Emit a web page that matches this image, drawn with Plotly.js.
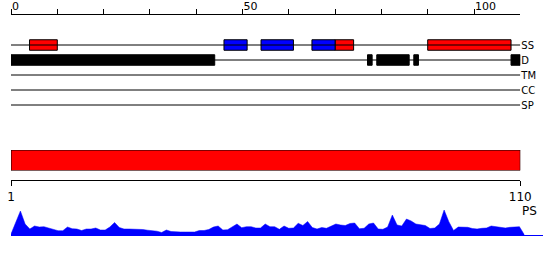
<!DOCTYPE html>
<html>
<head>
<meta charset="utf-8">
<script src="https://cdn.plot.ly/plotly-3.0.1.min.js"></script>
<style>html,body{margin:0;padding:0;background:#fff;}#chart{width:550px;height:260px;}</style>
</head>
<body>
<div id="chart"></div>
<script>
// ---- data ----
const tracks = ['SS', 'D', 'TM', 'CC', 'SP'];
const seqLength = 110;
const topTickVals = [0, 10, 20, 30, 40, 50, 60, 70, 80, 90, 100];
const topTickText = ['0', '', '', '', '', '50', '', '', '', '', '100'];
const bottomTickVals = [1, 110];
const bottomTickText = ['1', '110'];

const helixStart = [4, 70, 90];
const helixEnd = [10, 74, 108];
const strandStart = [46, 54, 65];
const strandEnd = [51, 61, 70];
const disorderStart = [0, 77, 79, 87, 108];
const disorderEnd = [44, 78, 86, 88, 110];

const domainStart = [1];
const domainEnd = [110];

const psValues = [
  1, 12, 24, 11, 6, 9, 8, 8.3, 7, 5.5,
  4.3, 4.3, 8, 6.3, 6, 4.5, 6, 6, 7, 5,
  5, 8, 12.5, 7.5, 6, 6, 6, 6, 5.5, 4.8,
  4.5, 3.8, 2.5, 5, 3.5, 3, 3, 3, 3, 3,
  4.5, 4.5, 5.5, 8, 9, 5, 5.3, 8, 11, 7.3,
  8.3, 8.3, 7, 7, 11, 8.3, 8.3, 5.7, 9, 6.7,
  7, 11.7, 9.5, 13.5, 7.5, 6, 7.5, 6.7, 9, 11,
  10, 9.5, 11.5, 12, 6.3, 6.7, 11, 12, 6, 5.7,
  8, 20, 10, 9, 16, 14, 11, 10.5, 9.5, 6.5,
  7, 11, 25, 13.3, 4.5, 8, 8, 7.7, 6.5, 6,
  6.7, 7, 9, 8.5, 7.5, 7, 7.7, 7.7, 8.3, 0.5
];

// ---- build traces ----
const H = 260, W = 550;
const py = px => 1 - px / H;
const FONT = 'DejaVu Sans, sans-serif';

const traces = [];
tracks.forEach(t => {
  traces.push({type: 'scatter', mode: 'lines', x: [0, seqLength], y: [t, t],
    xaxis: 'x', yaxis: 'y', line: {color: '#000', width: 1}, hoverinfo: 'skip'});
});
function segBars(starts, ends, track, color) {
  return {type: 'bar', orientation: 'h', xaxis: 'x', yaxis: 'y',
    y: starts.map(() => track), base: starts, x: starts.map((s, i) => ends[i] - s),
    width: 0.7, marker: {color: color, line: {color: '#000', width: 1}}, hoverinfo: 'skip'};
}
traces.push(segBars(helixStart, helixEnd, 'SS', '#ff0000'));
traces.push(segBars(strandStart, strandEnd, 'SS', '#0000ff'));
traces.push(segBars(disorderStart, disorderEnd, 'D', '#000000'));

traces.push({type: 'bar', orientation: 'h', xaxis: 'x2', yaxis: 'y2',
  y: [0.5], base: domainStart, x: domainStart.map((s, i) => domainEnd[i] - s), width: 1,
  marker: {color: '#ff0000', line: {color: '#000', width: 1}}, hoverinfo: 'skip'});

traces.push({type: 'scatter', mode: 'lines', xaxis: 'x3', yaxis: 'y3',
  x: psValues.map((v, i) => i + 1), y: psValues, fill: 'tozeroy',
  fillcolor: '#0000ff', line: {color: '#0000ff', width: 0.5}, hoverinfo: 'skip'});

const xDom = [11 / W, 520.3 / W];
const layout = {
  width: W, height: H,
  margin: {l: 0, r: 0, t: 0, b: 0},
  paper_bgcolor: '#fff', plot_bgcolor: 'rgba(0,0,0,0)',
  showlegend: false, barmode: 'overlay', hovermode: false,
  font: {family: FONT, color: '#000'},
  xaxis: {domain: xDom, range: [0, seqLength], side: 'top', anchor: 'y',
    showline: true, linecolor: '#000', linewidth: 1, ticks: 'outside', ticklen: 5,
    tickcolor: '#000', tickwidth: 1, tickvals: topTickVals, ticktext: topTickText,
    ticklabelposition: 'outside right', tickfont: {size: 11, family: FONT},
    showgrid: false, zeroline: false, fixedrange: true},
  yaxis: {domain: [py(115), py(15)], type: 'category', categoryorder: 'array',
    categoryarray: tracks, range: [4.667, -2], side: 'right', anchor: 'x',
    showline: false, ticks: '', showgrid: false, zeroline: false,
    tickfont: {size: 10, family: FONT}, fixedrange: true},
  xaxis2: {domain: xDom, range: [1, seqLength], anchor: 'free', position: py(180.3),
    showline: true, linecolor: '#000', linewidth: 1, ticks: 'outside', ticklen: 5,
    tickcolor: '#000', tickvals: bottomTickVals, ticktext: bottomTickText,
    tickfont: {size: 12, family: FONT}, showgrid: false, zeroline: false},
  yaxis2: {domain: [py(170.5), py(150)], range: [0, 1], anchor: 'x2', visible: false},
  xaxis3: {domain: [11 / W, 543 / W], range: [1, 114], anchor: 'y3',
    showline: true, linecolor: '#0000ff', linewidth: 1, ticks: '', showticklabels: false,
    showgrid: false, zeroline: false},
  yaxis3: {domain: [py(235), py(205)], range: [0, 30], anchor: 'x3', visible: false},
  annotations: [{text: 'PS', xref: 'x2', x: seqLength, xanchor: 'left', xshift: 0,
    yref: 'paper', y: py(210.5), yanchor: 'middle', showarrow: false,
    font: {size: 12, family: FONT, color: '#000'}}]
};

Plotly.newPlot('chart', traces, layout, {staticPlot: true, displayModeBar: false});
</script>
</body>
</html>
